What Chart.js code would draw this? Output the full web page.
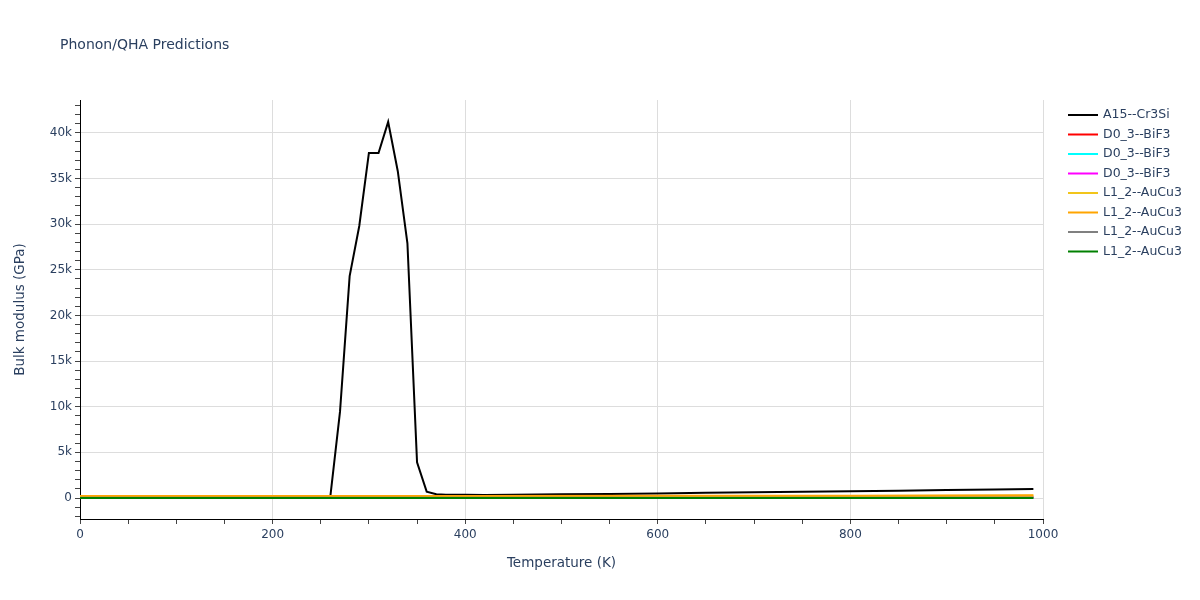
<!DOCTYPE html>
<html>
<head>
<meta charset="utf-8">
<script src="https://cdn.jsdelivr.net/npm/chart.js@4/dist/chart.umd.min.js"></script>
<style>
  html, body { margin: 0; padding: 0; background: #fff; }
  #wrap { width: 1200px; height: 600px; position: relative; }
</style>
</head>
<body>
<div id="wrap"><canvas id="c" width="1200" height="600"></canvas></div>
<script>
// ---- data ----
const chartTitle = "Phonon/QHA Predictions";
const xAxisTitle = "Temperature (K)";
const yAxisTitle = "Bulk modulus (GPa)";

const seriesNames = ["A15--Cr3Si", "D0_3--BiF3", "D0_3--BiF3", "D0_3--BiF3",
                     "L1_2--AuCu3", "L1_2--AuCu3", "L1_2--AuCu3", "L1_2--AuCu3"];
const seriesColors = ["#000000", "#ff0000", "#00ffff", "#ff00ff",
                      "#f2c51a", "#ffa500", "#808080", "#008000"];

const cr3siTemps = [260, 270, 280, 290, 300, 310, 320, 330, 340, 350, 360, 370, 380,
                    400, 420, 450, 500, 550, 600, 650, 700, 750, 800, 850, 900, 950, 990];
const cr3siBulk  = [200, 9460, 24300, 29800, 37800, 37800, 41200, 35800, 27900, 3900, 700, 420, 360,
                    350, 320, 360, 400, 450, 500, 580, 630, 680, 750, 800, 870, 930, 1000];

const otherTemps = [0, 200, 400, 600, 800, 990];
const bif3A   = [60, 60, 62, 65, 68, 70];
const bif3B   = [55, 55, 57, 60, 63, 66];
const bif3C   = [50, 50, 52, 55, 58, 62];
const aucu3A  = [190, 192, 200, 210, 225, 250];
const aucu3B  = [210, 215, 225, 240, 260, 290];
const aucu3C  = [20, 20, 22, 25, 28, 30];
const aucu3D  = [0, 0, 2, 5, 8, 12];

const xTickStep = 50, xLabelStep = 200;
const yTickStep = 1000, yLabelStep = 5000;
const xMin = 0, xMax = 1000, yMin = -2300, yMax = 43600;

// ---- build datasets ----
function pts(xs, ys) { return xs.map((x, i) => ({ x: x, y: ys[i] })); }
const seriesData = [
  pts(cr3siTemps, cr3siBulk),
  pts(otherTemps, bif3A), pts(otherTemps, bif3B), pts(otherTemps, bif3C),
  pts(otherTemps, aucu3A), pts(otherTemps, aucu3B), pts(otherTemps, aucu3C), pts(otherTemps, aucu3D)
];
const datasets = seriesData.map((d, i) => ({
  label: seriesNames[i],
  data: d,
  borderColor: seriesColors[i],
  backgroundColor: seriesColors[i],
  borderWidth: 2,
  pointRadius: 0,
  tension: 0,
  fill: false,
  order: seriesData.length - i
}));

const FONT = '"DejaVu Sans", Verdana, sans-serif';
const TXT = '#2a3f5f';

function kfmt(v) {
  if (v === 0) return '0';
  return (v / 1000) + 'k';
}
function stepTicks(lo, hi, step) {
  const out = [];
  for (let v = Math.ceil(lo / step) * step; v <= hi; v += step) out.push({ value: v });
  return out;
}

const overlay = {
  id: 'overlay',
  afterDraw(chart) {
    const ctx = chart.ctx;
    const area = chart.chartArea;
    ctx.save();
    ctx.fillStyle = TXT;
    ctx.font = '14px ' + FONT;
    ctx.textBaseline = 'middle';
    ctx.textAlign = 'left';
    ctx.fillText(chartTitle, 60, 45);
    // legend
    const lx = area.right + 25;
    let ly = 115;
    ctx.font = '12.5px ' + FONT;
    datasets.forEach((ds) => {
      ctx.strokeStyle = ds.borderColor;
      ctx.lineWidth = 2;
      ctx.beginPath();
      ctx.moveTo(lx, ly);
      ctx.lineTo(lx + 30, ly);
      ctx.stroke();
      ctx.fillStyle = TXT;
      ctx.fillText(ds.label, lx + 35, ly);
      ly += 19.5;
    });
    ctx.restore();
  }
};

const bgPlugin = {
  id: 'bg',
  beforeDraw(chart) {
    const ctx = chart.ctx;
    ctx.save();
    ctx.fillStyle = '#fff';
    ctx.fillRect(0, 0, chart.width, chart.height);
    ctx.restore();
  }
};

new Chart(document.getElementById('c'), {
  type: 'line',
  data: { datasets: datasets },
  plugins: [bgPlugin, overlay],
  options: {
    responsive: false,
    animation: false,
    layout: { padding: { top: 100, right: 157, bottom: 0, left: 0 } },
    plugins: { legend: { display: false }, title: { display: false }, tooltip: { enabled: false } },
    scales: {
      x: {
        type: 'linear',
        min: xMin, max: xMax,
        afterFit(s) { s.height = 81; },
        afterBuildTicks(s) { s.ticks = stepTicks(xMin, xMax, xTickStep); },
        border: { display: true, color: '#000', width: 1 },
        grid: {
          drawTicks: true,
          tickLength: 5,
          tickColor: '#444',
          color: (c) => (c.tick && c.tick.value % xLabelStep === 0 && c.tick.value !== 0) ? '#dddddd' : 'rgba(0,0,0,0)',
          lineWidth: 1
        },
        ticks: {
          autoSkip: false,
          maxRotation: 0,
          padding: 4,
          color: TXT,
          font: { family: FONT, size: 12 },
          callback: (v) => (v % xLabelStep === 0) ? String(v) : ''
        },
        title: {
          display: true, text: xAxisTitle, color: TXT,
          font: { family: FONT, size: 13.5 },
          padding: { top: 4, bottom: 28 }
        }
      },
      y: {
        type: 'linear',
        min: yMin, max: yMax,
        afterFit(s) { s.width = 80; },
        afterBuildTicks(s) { s.ticks = stepTicks(yMin, yMax, yTickStep); },
        border: { display: true, color: '#000', width: 1 },
        grid: {
          drawTicks: true,
          tickLength: 5,
          tickColor: '#444',
          color: (c) => (c.tick && c.tick.value % yLabelStep === 0) ? '#dddddd' : 'rgba(0,0,0,0)',
          lineWidth: 1
        },
        ticks: {
          autoSkip: false,
          padding: 3,
          color: TXT,
          font: { family: FONT, size: 12 },
          callback: (v) => (v % yLabelStep === 0) ? kfmt(v) : ''
        },
        title: {
          display: true, text: yAxisTitle, color: TXT,
          font: { family: FONT, size: 13.5 },
          padding: { top: 12, bottom: 4 }
        }
      }
    }
  }
});
</script>
</body>
</html>
